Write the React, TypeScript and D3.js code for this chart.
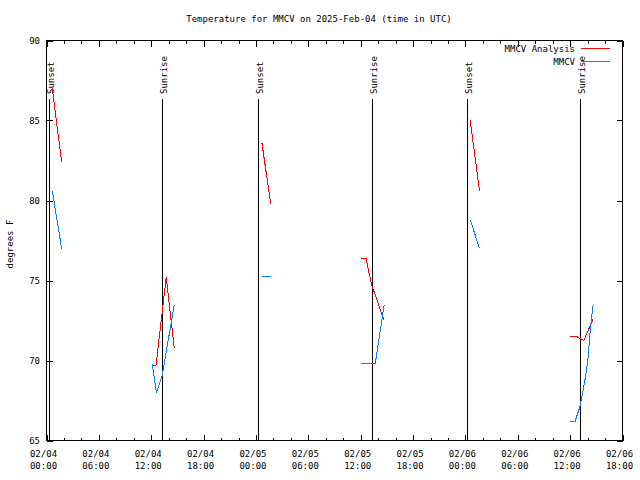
import React from "react";
import * as d3 from "d3";

// ---- data ----
const title = "Temperature for MMCV on 2025-Feb-04 (time in UTC)";
const yLabel = "degrees F";
const seriesNames = ["MMCV Analysis", "MMCV"];
const seriesColors = ["#ff0000", "#0080ff"];

// null separates segments
const analysisTimes: (string | null)[] = [
  "2025-02-04T00:40", "2025-02-04T01:44", null,
  "2025-02-04T12:07", "2025-02-04T12:33", "2025-02-04T13:43", "2025-02-04T14:38", null,
  "2025-02-05T00:41", "2025-02-05T01:41", null,
  "2025-02-05T12:01", "2025-02-05T12:38", "2025-02-05T13:13", "2025-02-05T14:41", null,
  "2025-02-06T00:33", "2025-02-06T01:37", null,
  "2025-02-06T11:58", "2025-02-06T12:44", "2025-02-06T13:34", "2025-02-06T14:38",
];
const analysisValues: (number | null)[] = [
  87.0, 82.4, null,
  69.7, 69.7, 75.2, 70.8, null,
  83.6, 79.8, null,
  76.35, 76.35, 74.8, 72.5, null,
  85.0, 80.6, null,
  71.5, 71.5, 71.25, 72.6,
];

const obsTimes: (string | null)[] = [
  "2025-02-04T00:40", "2025-02-04T01:44", null,
  "2025-02-04T12:07", "2025-02-04T12:35", "2025-02-04T13:14", "2025-02-04T14:38", null,
  "2025-02-05T00:41", "2025-02-05T01:41", null,
  "2025-02-05T12:01", "2025-02-05T13:40", "2025-02-05T14:41", null,
  "2025-02-06T00:33", "2025-02-06T01:37", null,
  "2025-02-06T11:58", "2025-02-06T12:34", "2025-02-06T13:07", "2025-02-06T13:25",
  "2025-02-06T13:46", "2025-02-06T14:04", "2025-02-06T14:20", "2025-02-06T14:38",
];
const obsValues: (number | null)[] = [
  80.6, 77.0, null,
  69.8, 68.0, 69.0, 73.45, null,
  75.25, 75.25, null,
  69.8, 69.8, 73.45, null,
  78.8, 77.0, null,
  66.2, 66.2, 67.1, 67.9,
  69.0, 70.2, 72.1, 73.45,
];

const sunEventTimes = [
  "2025-02-04T00:17", "2025-02-04T13:14", "2025-02-05T00:14",
  "2025-02-05T13:17", "2025-02-06T00:10", "2025-02-06T13:07",
];
const sunEventLabels = ["Sunset", "Sunrise", "Sunset", "Sunrise", "Sunset", "Sunrise"];

const xDomain = ["2025-02-04T00:00", "2025-02-06T18:00"];
const yDomain = [65, 90];
const yTicks = [65, 70, 75, 80, 85, 90];

const FONT = "'DejaVu Sans Mono', monospace";

function toDate(s: string) {
  return new Date(s + ":00Z");
}

export default function App() {
  const W = 640, H = 480;
  const left = 46.5, right = 622.5, top = 40.5, bottom = 440.5;

  const x = d3.scaleUtc().domain(xDomain.map(toDate)).range([left, right]);
  const y = d3.scaleLinear().domain(yDomain).range([bottom, top]);

  const majorTicks = x.ticks(d3.utcHour.every(6)!);
  const minorTicks = x.ticks(d3.utcHour.every(2)!).filter((t) => t.getUTCHours() % 6 !== 0);

  const line = d3
    .line<[Date | null, number | null]>()
    .defined((d) => d[0] !== null && d[1] !== null)
    .x((d) => x(d[0] as Date))
    .y((d) => y(d[1] as number));

  const anaPts = analysisTimes.map((t, i) => [t ? toDate(t) : null, analysisValues[i]] as [Date | null, number | null]);
  const obsPts = obsTimes.map((t, i) => [t ? toDate(t) : null, obsValues[i]] as [Date | null, number | null]);

  const fmtDate = d3.utcFormat("%m/%d");
  const fmtTime = d3.utcFormat("%H:%M");

  return (
    <svg width={W} height={H} style={{ position: "absolute", left: 0, top: 0, background: "#fff" }}>
      <rect x={0} y={0} width={W} height={H} fill="#fff" />
      {/* title */}
      <text x={319} y={22} textAnchor="middle" fontFamily={FONT} fontSize={9} fill="#000">
        {title}
      </text>

      {/* y ticks & labels */}
      {yTicks.map((v) => (
        <g key={"y" + v}>
          <line x1={left} x2={left + 6} y1={Math.round(y(v)) + 0.5} y2={Math.round(y(v)) + 0.5} stroke="#000" shapeRendering="crispEdges" />
          <line x1={right - 6} x2={right} y1={Math.round(y(v)) + 0.5} y2={Math.round(y(v)) + 0.5} stroke="#000" shapeRendering="crispEdges" />
          <text x={40} y={y(v)} dy="0.35em" textAnchor="end" fontFamily={FONT} fontSize={9} fill="#000">
            {v}
          </text>
        </g>
      ))}

      {/* x ticks */}
      {majorTicks.map((t, i) => (
        <g key={"xm" + i}>
          <line x1={Math.round(x(t)) + 0.5} x2={Math.round(x(t)) + 0.5} y1={bottom} y2={bottom - 6} stroke="#000" shapeRendering="crispEdges" />
          <line x1={Math.round(x(t)) + 0.5} x2={Math.round(x(t)) + 0.5} y1={top} y2={top + 6} stroke="#000" shapeRendering="crispEdges" />
          <text x={x(t) - 3} y={457} textAnchor="middle" fontFamily={FONT} fontSize={9} fill="#000">
            {fmtDate(t)}
          </text>
          <text x={x(t) - 3} y={469} textAnchor="middle" fontFamily={FONT} fontSize={9} fill="#000">
            {fmtTime(t)}
          </text>
        </g>
      ))}
      {minorTicks.map((t, i) => (
        <g key={"xn" + i}>
          <line x1={Math.round(x(t)) + 0.5} x2={Math.round(x(t)) + 0.5} y1={bottom} y2={bottom - 3} stroke="#000" shapeRendering="crispEdges" />
          <line x1={Math.round(x(t)) + 0.5} x2={Math.round(x(t)) + 0.5} y1={top} y2={top + 3} stroke="#000" shapeRendering="crispEdges" />
        </g>
      ))}

      {/* sunrise / sunset markers */}
      {sunEventTimes.map((s, i) => {
        const xx = Math.round(x(toDate(s))) + 0.5;
        return (
          <g key={"sun" + i}>
            <line x1={xx} x2={xx} y1={99} y2={bottom} stroke="#000" shapeRendering="crispEdges" />
            <text
              transform={`translate(${xx + 1},94) rotate(-90)`}
              textAnchor="start"
              dominantBaseline="central"
              fontFamily={FONT}
              fontSize={9}
              fill="#000"
            >
              {sunEventLabels[i]}
            </text>
          </g>
        );
      })}

      {/* data lines */}
      <path d={line(anaPts) || ""} fill="none" stroke={seriesColors[0]} strokeWidth={1} shapeRendering="crispEdges" />
      <path d={line(obsPts) || ""} fill="none" stroke={seriesColors[1]} strokeWidth={1} shapeRendering="crispEdges" />

      {/* border */}
      <rect x={left} y={top} width={right - left} height={bottom - top} fill="none" stroke="#000" shapeRendering="crispEdges" />

      {/* y label */}
      <text transform="translate(10,244) rotate(-90)" textAnchor="middle" dominantBaseline="central" fontFamily={FONT} fontSize={9} fill="#000">
        {yLabel}
      </text>

      {/* legend */}
      {seriesNames.map((n, i) => (
        <g key={"lg" + i}>
          <text x={575} y={49 + i * 13} dy="0.35em" textAnchor="end" fontFamily={FONT} fontSize={9} fill="#000">
            {n}
          </text>
          <line x1={581} x2={610} y1={48.5 + i * 13} y2={48.5 + i * 13} stroke={seriesColors[i]} shapeRendering="crispEdges" />
        </g>
      ))}
    </svg>
  );
}
